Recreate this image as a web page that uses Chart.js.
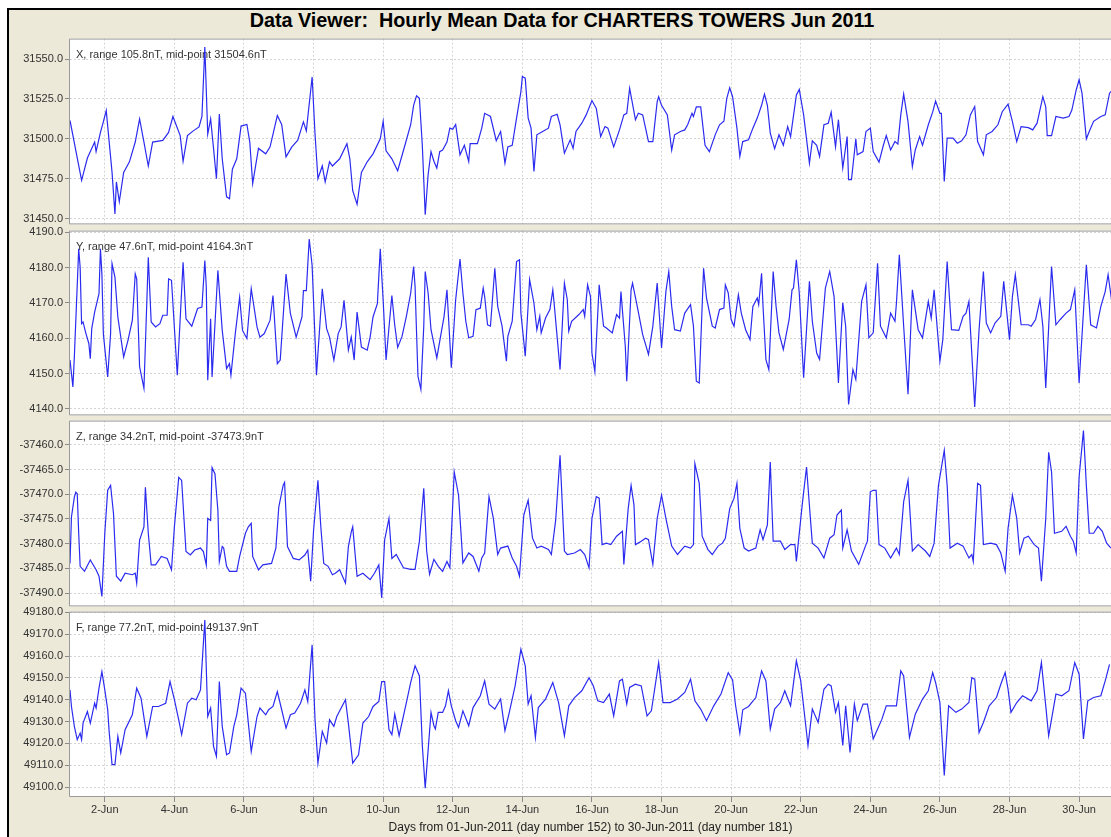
<!DOCTYPE html>
<html>
<head>
<meta charset="utf-8">
<title>Data Viewer: Hourly Mean Data for CHARTERS TOWERS Jun 2011</title>
<script src="https://cdn.jsdelivr.net/npm/chart.js@4.4.1/dist/chart.umd.min.js"></script>
<style>
  html, body { margin: 0; padding: 0; background: #fff; width: 1111px; height: 837px; overflow: hidden; }
  #frame { position: absolute; left: 7px; top: 8px; width: 1120px; height: 840px; background: #ece9d8;
           border-left: 2px solid #000; border-top: 2px solid #000; }
  #title { position: absolute; left: 7px; top: 9px; width: 1110px; height: 24px; line-height: 24px;
           text-align: center; white-space: pre; color: #000;
           font: bold 19.8px "Liberation Sans", Arial, sans-serif; }
  canvas { position: absolute; left: 0; }
</style>
</head>
<body>
<div id="frame"></div>
<div id="title">Data Viewer:  Hourly Mean Data for CHARTERS TOWERS Jun 2011</div>
<canvas id="panel-x" width="1111" height="203" style="top:30px"></canvas>
<canvas id="panel-y" width="1111" height="202" style="top:222px"></canvas>
<canvas id="panel-z" width="1111" height="203" style="top:412px"></canvas>
<canvas id="panel-f" width="1111" height="234" style="top:603px"></canvas>
<script>
// hours counted from 01-Jun-2011 00:00 UT
const dayTickHours = [24, 72, 120, 168, 216, 264, 312, 360, 408, 456, 504, 552, 600, 648, 696];
const dayTickLabels = ['2-Jun', '4-Jun', '6-Jun', '8-Jun', '10-Jun', '12-Jun', '14-Jun', '16-Jun',
                       '18-Jun', '20-Jun', '22-Jun', '24-Jun', '26-Jun', '28-Jun', '30-Jun'];
const axisTitle = 'Days from 01-Jun-2011 (day number 152) to 30-Jun-2011 (day number 181)';

// X component (nT)
const hoursX = [
  0, 8, 12, 17, 18, 21, 23, 25, 26, 29,
  31, 32, 34, 37, 41, 45, 48, 51, 54, 57,
  64, 68, 71, 76, 78, 81, 85, 89, 91, 93,
  95, 97, 99, 101, 103, 105, 108, 110, 112, 115,
  118, 122, 124, 126, 130, 135, 138, 143, 146, 149,
  153, 157, 161, 163, 167, 169, 171, 174, 176, 179,
  181, 186, 191, 193, 195, 198, 201, 205, 209, 214,
  216, 218, 222, 226, 231, 235, 237, 239, 241, 243,
  245, 247, 249, 251, 253, 255, 257, 260, 262, 264,
  266, 269, 272, 275, 276, 281, 284, 286, 290, 294,
  297, 300, 302, 305, 308, 311, 312, 314, 316, 318,
  320, 322, 326, 330, 332, 336, 338, 341, 345, 347,
  349, 353, 356, 360, 363, 366, 369, 371, 375, 379,
  382, 384, 386, 390, 392, 395, 399, 402, 405, 406,
  408, 412, 415, 417, 421, 424, 426, 429, 430, 432,
  435, 438, 441, 445, 448, 451, 453, 455, 457, 460,
  462, 464, 468, 471, 474, 477, 479, 481, 483, 486,
  489, 492, 495, 497, 501, 503, 506, 510, 512, 515,
  517, 520, 523, 525, 528, 530, 533, 536, 537, 539,
  542, 543, 547, 549, 552, 554, 558, 561, 563, 566,
  569, 571, 573, 575, 578, 581, 583, 586, 588, 592,
  595, 597, 600, 601, 603, 605, 609, 612, 615, 618,
  621, 624, 626, 630, 632, 636, 640, 643, 647, 650,
  653, 656, 661, 664, 667, 671, 673, 674, 677, 680,
  685, 689, 691, 694, 696, 698, 701, 703, 706, 711,
  714, 717, 719
];
const valuesX = [
  31511.5, 31474.0, 31488.0, 31498.0, 31492.0, 31504.0, 31510.6, 31517.7, 31508.0, 31479.0,
  31453.0, 31473.0, 31460.6, 31479.0, 31485.6, 31498.0, 31512.5, 31498.0, 31483.0, 31498.0,
  31499.0, 31504.0, 31514.0, 31502.0, 31486.0, 31502.0, 31505.0, 31507.5, 31514.0, 31557.5,
  31503.0, 31512.5, 31494.0, 31475.0, 31515.6, 31487.5, 31463.7, 31462.5, 31481.0, 31487.5,
  31508.0, 31509.0, 31498.0, 31472.0, 31494.0, 31490.6, 31495.0, 31514.6, 31509.0, 31488.7,
  31495.0, 31499.0, 31510.6, 31505.0, 31538.7, 31503.0, 31475.0, 31483.0, 31473.0, 31485.6,
  31483.0, 31487.5, 31497.0, 31487.5, 31467.5, 31459.0, 31479.0, 31485.6, 31490.6, 31500.0,
  31511.0, 31492.5, 31487.5, 31480.0, 31496.0, 31509.0, 31521.0, 31527.0, 31525.4, 31496.0,
  31452.5, 31477.5, 31492.0, 31486.0, 31481.7, 31492.0, 31493.0, 31498.0, 31506.7, 31506.0,
  31509.0, 31490.0, 31496.0, 31485.8, 31497.0, 31497.0, 31506.7, 31516.0, 31514.0, 31498.8,
  31504.6, 31484.8, 31495.0, 31496.0, 31513.0, 31529.6, 31539.0, 31538.0, 31513.0, 31506.7,
  31479.6, 31502.5, 31504.6, 31506.7, 31514.0, 31515.4, 31508.8, 31491.0, 31499.4, 31494.0,
  31504.6, 31509.8, 31515.0, 31524.0, 31519.0, 31501.4, 31507.7, 31506.7, 31495.0, 31505.6,
  31515.0, 31516.0, 31531.7, 31512.0, 31516.0, 31515.0, 31498.3, 31498.3, 31523.3, 31526.4,
  31521.0, 31515.0, 31493.0, 31502.5, 31504.6, 31505.6, 31508.8, 31516.0, 31514.0, 31520.0,
  31520.0, 31496.0, 31492.0, 31502.5, 31508.8, 31511.0, 31525.4, 31532.0, 31526.4, 31506.7,
  31489.0, 31498.3, 31499.4, 31506.7, 31513.0, 31521.0, 31528.0, 31521.0, 31503.5, 31493.8,
  31502.5, 31496.0, 31507.7, 31501.4, 31527.5, 31531.0, 31515.0, 31484.8, 31498.8, 31496.0,
  31489.0, 31508.8, 31509.8, 31516.7, 31495.0, 31512.0, 31481.7, 31501.4, 31474.4, 31474.4,
  31500.0, 31490.0, 31492.0, 31504.6, 31506.7, 31492.0, 31485.4, 31496.0, 31502.0, 31493.0,
  31498.3, 31496.7, 31515.0, 31528.0, 31510.8, 31482.7, 31493.0, 31501.4, 31496.0, 31508.8,
  31516.7, 31523.7, 31516.0, 31516.0, 31473.3, 31500.4, 31500.4, 31497.3, 31498.8, 31502.5,
  31515.0, 31520.2, 31498.3, 31490.0, 31502.5, 31504.6, 31508.8, 31517.0, 31521.7, 31510.8,
  31498.3, 31507.7, 31507.0, 31505.6, 31509.8, 31526.4, 31520.0, 31502.0, 31502.0, 31514.0,
  31513.0, 31514.0, 31518.0, 31530.6, 31537.0, 31528.6, 31500.0, 31504.6, 31511.0, 31514.0,
  31515.0, 31528.6, 31530.6
];

// Y component (nT)
const hoursY = [
  0, 2, 3, 6, 7, 8, 9, 11, 13, 14,
  15, 17, 20, 21, 22, 23, 26, 28, 29, 31,
  33, 37, 40, 43, 45, 46, 48, 51, 54, 56,
  59, 62, 64, 67, 68, 70, 74, 78, 80, 84,
  88, 91, 93, 94, 95, 97, 98, 102, 105, 108,
  110, 111, 114, 117, 119, 122, 125, 129, 131, 134,
  138, 140, 143, 145, 149, 152, 156, 160, 161, 163,
  165, 167, 170, 174, 177, 179, 182, 185, 187, 189,
  192, 194, 196, 198, 201, 205, 207, 209, 212, 214,
  216, 218, 222, 224, 226, 229, 232, 235, 237, 238,
  240, 242, 244, 245, 247, 249, 253, 255, 258, 260,
  263, 266, 269, 271, 273, 275, 278, 280, 283, 285,
  286, 288, 290, 293, 295, 298, 301, 302, 305, 308,
  310, 311, 314, 317, 320, 322, 324, 325, 328, 331,
  333, 334, 338, 341, 343, 344, 346, 351, 354, 355,
  357, 359, 360, 362, 365, 368, 370, 374, 377, 379,
  380, 383, 384, 387, 388, 391, 395, 399, 402, 405,
  408, 411, 413, 415, 417, 421, 424, 428, 430, 432,
  434, 437, 439, 443, 445, 448, 451, 452, 454, 456,
  458, 461, 463, 466, 469, 471, 474, 475, 477, 478,
  480, 482, 485, 487, 489, 492, 496, 498, 499, 501,
  503, 506, 510, 512, 515, 517, 521, 524, 527, 530,
  533, 535, 537, 540, 542, 546, 549, 551, 554, 557,
  559, 563, 566, 569, 570, 572, 575, 578, 581, 585,
  588, 592, 594, 596, 600, 602, 605, 608, 613, 616,
  618, 620, 624, 627, 630, 632, 635, 638, 642, 644,
  648, 650, 652, 656, 661, 663, 666, 669, 671, 673,
  677, 680, 683, 687, 690, 693, 696, 701, 704, 708,
  711, 714, 716, 719
];
const valuesY = [
  4153.8, 4146.2, 4154.7, 4185.3, 4180.1, 4164.1, 4164.6, 4161.3, 4158.5, 4154.2,
  4162.7, 4167.4, 4172.6, 4185.3, 4178.2, 4161.3, 4149.0, 4161.3, 4181.1, 4177.3,
  4166.0, 4154.7, 4159.4, 4165.1, 4178.2, 4176.8, 4151.9, 4145.8, 4182.9, 4164.6,
  4163.2, 4164.1, 4166.5, 4166.5, 4176.8, 4176.4, 4149.5, 4181.5, 4165.5, 4163.4,
  4168.4, 4168.8, 4182.0, 4174.5, 4148.1, 4165.5, 4149.0, 4179.2, 4162.2, 4151.4,
  4152.8, 4149.5, 4161.3, 4171.6, 4162.2, 4159.9, 4174.0, 4163.2, 4160.3, 4161.3,
  4165.1, 4172.1, 4152.8, 4153.8, 4178.2, 4167.0, 4160.3, 4166.0, 4173.5, 4173.5,
  4188.1, 4180.6, 4149.5, 4174.0, 4162.7, 4160.3, 4153.8, 4161.3, 4163.2, 4170.7,
  4156.6, 4160.3, 4153.8, 4167.4, 4157.5, 4156.6, 4160.3, 4166.0, 4169.8, 4185.3,
  4170.7, 4153.8, 4172.1, 4163.6, 4157.4, 4160.5, 4166.2, 4172.8, 4180.3, 4174.7,
  4149.2, 4145.5, 4163.4, 4178.9, 4172.8, 4162.4, 4154.4, 4159.1, 4166.2, 4173.7,
  4151.6, 4170.9, 4182.4, 4172.8, 4164.8, 4160.1, 4160.5, 4168.1, 4168.5, 4174.2,
  4171.8, 4163.8, 4163.4, 4179.8, 4169.0, 4163.4, 4153.5, 4160.5, 4164.8, 4181.7,
  4182.2, 4167.1, 4154.9, 4176.6, 4169.9, 4162.4, 4166.2, 4161.5, 4165.7, 4168.1,
  4173.7, 4169.5, 4151.1, 4175.6, 4170.9, 4162.0, 4164.8, 4166.7, 4168.1, 4166.2,
  4175.1, 4171.8, 4155.8, 4150.6, 4175.1, 4163.4, 4162.9, 4161.5, 4166.7, 4165.7,
  4173.2, 4157.7, 4147.8, 4173.7, 4175.6, 4169.5, 4161.0, 4155.4, 4163.4, 4175.6,
  4157.2, 4173.2, 4178.9, 4169.0, 4162.4, 4162.0, 4167.1, 4169.5, 4163.4, 4147.8,
  4147.3, 4179.8, 4171.4, 4163.4, 4162.9, 4168.1, 4168.5, 4175.1, 4172.8, 4165.3,
  4163.4, 4172.3, 4167.1, 4162.4, 4159.6, 4169.0, 4171.4, 4169.5, 4178.4, 4169.0,
  4153.9, 4151.1, 4178.9, 4169.0, 4161.5, 4156.8, 4165.3, 4173.7, 4174.2, 4182.2,
  4172.8, 4148.8, 4176.1, 4164.8, 4155.8, 4154.0, 4174.2, 4178.9, 4171.8, 4147.3,
  4170.0, 4163.4, 4141.2, 4151.1, 4148.3, 4170.4, 4175.1, 4160.1, 4161.5, 4181.2,
  4163.4, 4160.1, 4167.1, 4164.8, 4169.9, 4183.6, 4163.4, 4144.1, 4173.7, 4162.4,
  4160.1, 4170.4, 4165.7, 4173.7, 4153.5, 4159.6, 4181.7, 4162.4, 4162.2, 4166.2,
  4167.1, 4170.4, 4140.5, 4162.4, 4178.9, 4164.3, 4161.5, 4164.3, 4166.2, 4176.1,
  4159.6, 4171.8, 4178.0, 4163.8, 4163.8, 4163.4, 4165.3, 4170.9, 4163.4, 4145.9,
  4180.3, 4163.8, 4165.3, 4167.1, 4168.1, 4173.7, 4147.3, 4180.8, 4163.8, 4162.9,
  4169.0, 4173.2, 4178.0, 4169.0
];

// Z component (nT)
const hoursZ = [
  0, 1, 3, 4, 5, 6, 7, 10, 14, 18,
  20, 22, 24, 26, 28, 30, 32, 35, 38, 43,
  45, 46, 48, 51, 52, 54, 56, 59, 63, 67,
  70, 72, 75, 77, 80, 83, 86, 90, 92, 94,
  95, 97, 98, 100, 102, 103, 105, 106, 108, 110,
  115, 117, 121, 123, 125, 126, 130, 133, 139, 142,
  144, 147, 148, 150, 154, 158, 162, 164, 166, 168,
  171, 173, 175, 178, 181, 183, 186, 190, 192, 194,
  195, 198, 202, 207, 210, 213, 215, 217, 220, 222,
  225, 230, 235, 238, 241, 244, 246, 248, 251, 254,
  257, 260, 262, 265, 268, 271, 275, 278, 282, 284,
  286, 289, 292, 295, 297, 302, 305, 308, 310, 313,
  316, 319, 322, 325, 330, 332, 335, 338, 341, 343,
  348, 352, 355, 358, 360, 363, 365, 367, 370, 373,
  377, 381, 382, 385, 387, 389, 390, 394, 397, 399,
  402, 405, 408, 411, 415, 419, 424, 428, 430, 431,
  434, 436, 440, 443, 447, 450, 452, 455, 458, 460,
  462, 465, 468, 473, 476, 478, 481, 483, 485, 490,
  493, 497, 500, 501, 505, 508, 511, 512, 516, 520,
  524, 527, 529, 532, 533, 536, 539, 544, 549, 550,
  552, 554, 556, 558, 562, 566, 570, 572, 575, 578,
  581, 585, 590, 593, 596, 599, 603, 605, 607, 612,
  616, 620, 622, 623, 626, 628, 630, 635, 639, 642,
  645, 647, 650, 653, 655, 658, 661, 665, 668, 670,
  673, 675, 677, 679, 684, 687, 690, 692, 694, 696,
  699, 701, 703, 706, 709, 712, 715, 718
];
const valuesZ = [
  -37484.0, -37474.6, -37470.6, -37469.6, -37469.9, -37477.9, -37484.6, -37485.6, -37483.3, -37485.3,
  -37486.6, -37490.7, -37477.9, -37469.2, -37468.2, -37473.9, -37486.6, -37487.6, -37486.0, -37486.3,
  -37486.0, -37488.0, -37479.3, -37476.6, -37468.6, -37477.9, -37484.3, -37484.3, -37482.6, -37483.0,
  -37485.3, -37476.6, -37466.6, -37467.2, -37481.6, -37482.3, -37481.3, -37480.9, -37481.6, -37484.3,
  -37474.9, -37475.3, -37464.6, -37465.9, -37473.3, -37483.6, -37480.6, -37480.9, -37484.6, -37485.6,
  -37485.6, -37482.6, -37477.9, -37476.6, -37475.9, -37482.6, -37485.3, -37484.3, -37484.0, -37480.9,
  -37472.6, -37468.2, -37467.6, -37480.6, -37483.0, -37483.3, -37482.3, -37481.3, -37487.6, -37477.3,
  -37467.2, -37476.6, -37484.0, -37484.6, -37486.3, -37486.0, -37485.3, -37488.0, -37480.6, -37477.6,
  -37476.6, -37486.6, -37486.0, -37487.3, -37486.0, -37484.3, -37491.0, -37479.3, -37474.9, -37483.0,
  -37482.2, -37484.9, -37485.2, -37485.2, -37479.5, -37468.8, -37481.5, -37486.2, -37483.2, -37484.6,
  -37485.6, -37483.6, -37484.9, -37465.5, -37470.2, -37483.9, -37481.9, -37482.6, -37485.6, -37482.9,
  -37481.9, -37470.5, -37474.9, -37482.2, -37480.9, -37480.5, -37482.9, -37484.6, -37486.6, -37474.2,
  -37471.2, -37478.9, -37480.9, -37480.5, -37481.2, -37482.2, -37475.2, -37462.1, -37481.5, -37482.2,
  -37481.9, -37481.2, -37482.2, -37484.9, -37474.9, -37470.5, -37470.8, -37480.2, -37479.9, -37480.2,
  -37478.5, -37477.5, -37484.2, -37472.9, -37468.2, -37472.2, -37480.2, -37479.5, -37478.9, -37479.2,
  -37484.2, -37474.9, -37470.2, -37474.9, -37480.5, -37482.2, -37480.5, -37480.9, -37480.2, -37463.8,
  -37467.8, -37478.5, -37481.2, -37482.2, -37480.5, -37479.9, -37478.9, -37472.9, -37470.8, -37467.8,
  -37476.9, -37480.9, -37481.5, -37480.9, -37477.2, -37479.2, -37476.2, -37463.5, -37479.5, -37479.5,
  -37481.2, -37480.2, -37480.2, -37483.6, -37472.2, -37464.5, -37476.2, -37479.9, -37480.9, -37482.9,
  -37478.9, -37478.2, -37474.2, -37473.2, -37480.9, -37477.2, -37481.5, -37484.2, -37480.2, -37479.5,
  -37469.5, -37469.2, -37469.2, -37480.2, -37480.9, -37482.9, -37480.9, -37482.2, -37471.5, -37467.2,
  -37481.5, -37480.2, -37481.5, -37482.6, -37479.9, -37468.2, -37461.1, -37468.2, -37480.9, -37479.9,
  -37480.5, -37482.9, -37482.2, -37483.6, -37467.8, -37468.2, -37480.2, -37479.9, -37480.2, -37481.9,
  -37485.6, -37476.9, -37470.2, -37474.9, -37481.9, -37478.9, -37478.5, -37480.2, -37480.9, -37487.6,
  -37474.9, -37461.5, -37465.5, -37477.9, -37477.5, -37476.5, -37478.5, -37479.5, -37481.9, -37466.5,
  -37457.1, -37468.2, -37477.9, -37477.9, -37476.5, -37477.5, -37479.9, -37480.9
];

// F total field (nT)
const hoursF = [
  0, 1, 3, 5, 7, 8, 9, 12, 14, 17,
  18, 20, 22, 24, 26, 27, 29, 31, 33, 35,
  38, 43, 46, 49, 53, 57, 61, 66, 69, 72,
  75, 77, 81, 84, 87, 90, 93, 95, 97, 99,
  101, 103, 105, 108, 110, 113, 115, 118, 121, 123,
  125, 129, 131, 135, 137, 140, 143, 146, 149, 152,
  155, 159, 162, 164, 167, 169, 171, 174, 177, 179,
  182, 184, 190, 192, 195, 199, 202, 206, 209, 213,
  215, 217, 220, 222, 224, 227, 232, 235, 238, 241,
  243, 245, 249, 251, 252, 254, 257, 259, 261, 263,
  266, 268, 271, 275, 278, 283, 286, 289, 293, 297,
  300, 303, 307, 311, 314, 316, 318, 321, 323, 328,
  333, 337, 341, 344, 348, 353, 358, 361, 364, 368,
  372, 375, 379, 381, 384, 386, 390, 394, 398, 401,
  406, 409, 414, 419, 424, 428, 431, 435, 439, 444,
  449, 454, 457, 459, 462, 464, 468, 473, 477, 480,
  483, 486, 490, 493, 497, 501, 504, 508, 509, 512,
  516, 520, 523, 525, 528, 530, 533, 535, 538, 541,
  543, 547, 550, 554, 557, 560, 563, 566, 570, 573,
  575, 579, 583, 588, 592, 595, 597, 600, 603, 606,
  611, 615, 620, 622, 624, 627, 630, 634, 639, 642,
  645, 647, 649, 653, 657, 663, 667, 670, 673, 675,
  677, 680, 684, 689, 693, 696, 699, 702, 706, 711,
  714, 717
];
const valuesF = [
  49144.5, 49136.9, 49127.8, 49121.7, 49124.7, 49121.7, 49129.3, 49134.6, 49129.3, 49138.4,
  49136.2, 49145.3, 49152.9, 49144.5, 49135.4, 49125.5, 49110.3, 49110.3, 49123.2, 49115.6,
  49126.3, 49133.1, 49145.3, 49140.7, 49123.2, 49136.9, 49136.9, 49138.4, 49148.3, 49140.0,
  49130.8, 49124.0, 49138.4, 49140.7, 49140.0, 49144.5, 49176.5, 49132.3, 49136.2, 49118.6,
  49114.1, 49148.3, 49127.8, 49114.8, 49115.6, 49127.8, 49133.1, 49145.3, 49143.0, 49129.3,
  49116.3, 49132.3, 49136.2, 49133.1, 49135.4, 49136.9, 49143.7, 49135.4, 49127.0, 49133.1,
  49133.9, 49138.4, 49144.5, 49139.2, 49165.1, 49130.8, 49111.0, 49125.5, 49120.2, 49130.8,
  49127.8, 49132.3, 49140.0, 49129.3, 49111.0, 49114.8, 49129.3, 49132.3, 49136.9, 49139.2,
  49148.3, 49148.3, 49126.3, 49124.0, 49133.4, 49123.5, 49138.7, 49147.9, 49155.5, 49150.9,
  49119.0, 49099.5, 49134.2, 49128.1, 49126.6, 49134.2, 49134.2, 49137.2, 49144.1, 49137.2,
  49130.4, 49127.3, 49134.9, 49128.1, 49136.4, 49141.8, 49148.6, 49138.0, 49135.7, 49140.3,
  49125.8, 49134.2, 49146.3, 49163.1, 49155.5, 49138.0, 49141.8, 49122.7, 49136.4, 49140.3,
  49147.9, 49138.7, 49123.5, 49137.2, 49141.0, 49144.1, 49150.1, 49146.3, 49139.5, 49138.7,
  49142.6, 49132.6, 49148.6, 49149.4, 49138.0, 49145.6, 49147.1, 49146.3, 49132.6, 49134.9,
  49157.0, 49138.7, 49138.7, 49140.3, 49143.3, 49149.4, 49139.5, 49135.7, 49130.4, 49137.2,
  49142.6, 49152.4, 49149.1, 49137.7, 49124.7, 49135.4, 49136.9, 49141.0, 49153.2, 49148.6,
  49126.6, 49135.7, 49138.7, 49144.1, 49137.2, 49157.8, 49148.6, 49125.0, 49119.0, 49135.7,
  49129.6, 49144.8, 49147.1, 49146.3, 49134.2, 49138.7, 49119.0, 49137.2, 49115.9, 49138.0,
  49130.4, 49138.0, 49138.0, 49122.0, 49126.6, 49131.1, 49137.2, 49137.2, 49137.2, 49153.2,
  49150.9, 49122.7, 49133.4, 49140.3, 49144.1, 49152.4, 49147.9, 49138.7, 49105.3, 49137.2,
  49134.2, 49135.7, 49138.7, 49150.1, 49149.4, 49125.0, 49129.6, 49137.2, 49141.0, 49147.1,
  49152.4, 49144.8, 49134.2, 49138.7, 49141.8, 49139.5, 49144.1, 49157.0, 49137.2, 49123.5,
  49131.1, 49142.6, 49141.8, 49144.1, 49157.0, 49151.7, 49122.0, 49139.5, 49141.0, 49141.8,
  49148.6, 49156.2
];

// per-panel summary shown in each panel and the y tick values
const componentNames = ['X', 'Y', 'Z', 'F'];
const componentRanges = [105.8, 47.6, 34.2, 77.2];
const componentMidpoints = [31504.6, 4164.3, -37473.9, 49137.9];
const yTicksX = [31450, 31475, 31500, 31525, 31550];
const yTicksY = [4140, 4150, 4160, 4170, 4180, 4190];
const yTicksZ = [-37490, -37485, -37480, -37475, -37470, -37465, -37460];
const yTicksF = [49100, 49110, 49120, 49130, 49140, 49150, 49160, 49170, 49180];

const LINE_COLOR = '#2b2bf0';
const GRID_COLOR = '#d4d4d4';
const FONT = '"Liberation Sans", Arial, sans-serif';

Chart.defaults.font.family = FONT;
Chart.defaults.font.size = 11;
Chart.defaults.color = '#333';

// white plot area, gray frame and the little note in the corner
const panelBox = {
    id: 'panelBox',
    beforeDraw(chart) {
        const {ctx, chartArea: a} = chart;
        ctx.save();
        ctx.fillStyle = '#fff';
        ctx.fillRect(a.left, a.top, a.right - a.left, a.bottom - a.top);
        ctx.restore();
    },
    beforeDatasetsDraw(chart, args, opts) {
        const {ctx, chartArea: a} = chart;
        ctx.save();
        ctx.font = '11px ' + FONT;
        ctx.fillStyle = '#333';
        ctx.textBaseline = 'middle';
        ctx.fillText(opts.note, a.left + 6, a.top + 16);
        ctx.restore();
    },
    afterDraw(chart) {
        const {ctx, chartArea: a} = chart;
        ctx.save();
        ctx.strokeStyle = '#9a9a9a';
        ctx.lineWidth = 1;
        ctx.beginPath();
        ctx.moveTo(a.right + 1, a.top + 0.5);
        ctx.lineTo(a.left - 0.5, a.top + 0.5);
        ctx.lineTo(a.left - 0.5, a.bottom - 0.5);
        ctx.lineTo(a.right + 1, a.bottom - 0.5);
        ctx.stroke();
        ctx.restore();
    }
};

function createPanel(canvasId, idx, hours, values, yTicks, isBottom) {
    const range = componentRanges[idx];
    const mid = componentMidpoints[idx];
    const note = `${componentNames[idx]}, range ${range.toFixed(1)}nT, mid-point ${mid.toFixed(1)}nT`;
    const points = hours.map((h, i) => ({x: h, y: values[i]}));

    const ctx = document.getElementById(canvasId).getContext('2d');
    return new Chart(ctx, {
        type: 'line',
        data: {
            datasets: [{
                data: points,
                borderColor: LINE_COLOR,
                borderWidth: 1.2,
                pointRadius: 0,
                tension: 0,
                fill: false
            }]
        },
        options: {
            responsive: false,
            animation: false,
            events: [],
            layout: {padding: {top: 8, bottom: isBottom ? 0 : 8, left: 0, right: 0}},
            plugins: {
                legend: {display: false},
                tooltip: {enabled: false},
                panelBox: {note: note}
            },
            scales: {
                x: {
                    type: 'linear',
                    min: 0,
                    max: 718,
                    afterBuildTicks: s => { s.ticks = dayTickHours.map(v => ({value: v})); },
                    afterFit: s => { s.height = isBottom ? 40 : 0; },
                    border: {display: false, dash: [2, 2]},
                    grid: {
                        color: GRID_COLOR,
                        drawTicks: isBottom,
                        tickLength: 5,
                        tickColor: '#8a8a8a',
                        tickBorderDash: []
                    },
                    ticks: {
                        display: isBottom,
                        autoSkip: false,
                        maxRotation: 0,
                        padding: 1,
                        callback: (v, i) => dayTickLabels[i]
                    },
                    title: {
                        display: isBottom,
                        text: axisTitle,
                        color: '#222',
                        font: {size: 12},
                        padding: {top: 0, bottom: 2}
                    }
                },
                y: {
                    type: 'linear',
                    min: mid - range * 0.55,
                    max: mid + range * 0.55,
                    afterBuildTicks: s => { s.ticks = yTicks.map(v => ({value: v})); },
                    afterFit: s => { s.width = 70; },
                    border: {display: false, dash: [2, 2]},
                    grid: {
                        color: GRID_COLOR,
                        tickLength: 5,
                        tickColor: '#8a8a8a',
                        tickBorderDash: []
                    },
                    ticks: {
                        padding: 2,
                        autoSkip: false,
                        callback: v => v.toFixed(1)
                    }
                }
            }
        },
        plugins: [panelBox]
    });
}

createPanel('panel-x', 0, hoursX, valuesX, yTicksX, false);
createPanel('panel-y', 1, hoursY, valuesY, yTicksY, false);
createPanel('panel-z', 2, hoursZ, valuesZ, yTicksZ, false);
createPanel('panel-f', 3, hoursF, valuesF, yTicksF, true);
</script>
</body>
</html>
